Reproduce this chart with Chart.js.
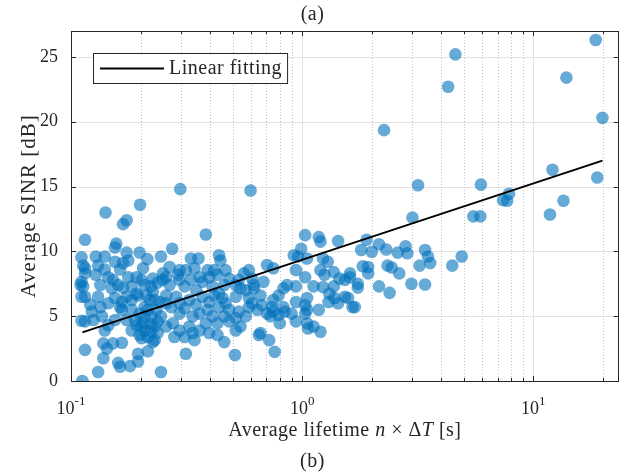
<!DOCTYPE html>
<html>
<head>
<meta charset="utf-8">
<script src="https://cdn.jsdelivr.net/npm/chart.js@4.4.0/dist/chart.umd.min.js"></script>
<style>
  html, body { margin: 0; padding: 0; background: #ffffff; }
  #wrap { width: 625px; height: 476px; }
</style>
</head>
<body>
<div id="wrap"><canvas id="c" width="625" height="476"></canvas></div>
<script>
// Measured links: average lifetime (s) and average SINR (dB)
const lifetime = [
  0.199,0.141,0.174,0.168,0.115,0.157,0.155,0.111,0.128,0.174,0.198,0.214,0.245,0.113,0.115,0.131,0.14,0.168,0.177,0.205,
  0.128,0.163,0.192,0.226,0.237,0.111,0.113,0.110,0.134,0.152,0.177,0.15,0.168,0.208,0.222,0.111,0.115,0.131,0.155,0.174,
  0.195,0.226,0.121,0.134,0.145,0.163,0.183,0.208,0.234,0.111,0.115,0.125,0.14,0.155,0.174,0.192,0.208,0.215,0.23,0.138,
  0.143,0.152,0.166,0.202,0.226,0.115,0.195,0.215,0.138,0.16,0.163,0.18,0.195,0.131,0.112,0.245,0.202,0.222,0.245,0.208,
  0.183,0.219,0.242,0.189,0.202,0.237,0.222,0.249,0.145,0.16,0.183,0.192,0.212,0.23,0.166,0.198,0.215,0.237,0.205,0.183,
  0.198,0.222,0.23,0.136,0.145,0.123,0.115,0.14,0.166,0.155,
  0.297,0.598,0.383,0.274,0.33,0.356,0.437,0.443,0.342,0.416,0.588,0.56,0.25,0.258,0.29,0.295,0.33,0.37,0.396,0.43,
  0.483,0.532,0.607,0.267,0.31,0.348,0.409,0.46,0.541,0.619,0.258,0.285,0.325,0.37,0.416,0.452,0.516,0.588,0.271,0.31,
  0.348,0.39,0.437,0.483,0.532,0.588,0.276,0.325,0.383,0.43,0.483,0.516,0.541,0.28,0.31,0.336,0.342,0.43,0.46,0.314,
  0.512,0.65,0.295,0.36,0.396,0.466,0.57,0.36,0.295,0.267,0.314,0.39,0.466,0.516,0.57,0.258,0.295,0.336,0.409,0.46,
  0.516,0.258,0.36,0.396,0.295,0.437,0.607,
  1.03,1.18,1.2,1.43,0.99,0.92,0.96,1.05,1.23,1.29,0.705,0.75,1.2,1.37,0.68,1.03,1.25,1.45,1.53,1.61,
  0.86,0.83,0.94,1.12,0.66,0.79,1.31,1.38,1.53,1.05,0.94,0.67,0.74,0.75,0.83,0.84,1.03,1.05,1.3,1.43,
  1.65,0.705,0.73,0.79,0.8,1.03,0.94,1.05,1.06,1.12,1.2,0.66,0.72,0.76,0.616,0.64,0.9,1.18,0.94,1.37,
  0.75,1.23,
  2.26,3.17,3.0,5.5,1.9,2.15,1.8,2.0,2.31,2.8,2.85,2.59,3.4,3.5,3.58,4.9,4.46,3.22,1.83,1.93,
  2.34,2.44,1.93,2.63,1.61,1.74,1.74,2.15,2.39,2.97,3.4,1.69,1.58,
  18.6,4.6,13.9,4.28,19.9,12.1,18.9,5.93,7.4,7.85,7.7,13.5,11.8,5.9
];
const sinr = [
  13.6,13.0,12.4,12.1,10.9,10.6,10.3,9.55,9.6,9.9,9.9,9.4,9.6,8.9,8.7,8.9,8.6,9.1,9.3,8.7,
  8.2,8.6,8.0,7.9,7.6,7.65,7.3,7.4,7.4,7.8,8.0,7.15,7.2,7.4,7.3,6.5,6.5,6.5,6.4,6.5,
  6.6,6.9,5.9,5.7,6.0,5.7,5.5,5.7,5.5,4.65,4.6,4.7,3.9,4.7,4.7,4.3,3.9,3.4,4.2,2.9,
  2.5,2.9,2.95,3.3,3.0,2.4,2.1,2.3,1.75,1.4,1.1,1.15,1.5,0.7,0.0,0.7,7.8,5.0,5.0,5.0,
  6.25,6.25,6.1,4.7,4.2,3.7,4.4,7.8,8.0,7.4,7.3,6.75,6.6,6.25,5.5,5.2,5.5,4.6,4.45,3.9,
  3.55,3.8,3.15,5.0,4.3,5.35,8.3,9.6,6.1,9.2,
  14.8,14.7,11.3,10.2,9.45,9.45,9.7,9.3,8.7,8.55,8.55,8.3,8.3,8.0,8.2,7.8,7.8,7.65,8.0,8.2,
  7.9,7.8,7.9,7.4,7.3,7.0,7.3,7.4,7.15,7.15,6.6,6.5,6.25,6.5,6.6,6.4,6.5,6.4,5.7,5.6,
  5.9,5.5,5.7,5.5,5.35,5.7,4.45,4.2,4.45,4.45,4.6,3.9,4.2,3.4,3.4,3.7,3.15,3.55,3.0,2.1,
  2.0,3.55,6.0,5.2,6.1,6.0,5.0,8.0,8.55,8.8,8.55,8.55,8.55,7.4,7.0,6.0,5.2,5.0,5.0,5.0,
  4.85,4.2,3.9,3.7,3.9,6.75,6.0,
  11.25,11.1,10.75,10.8,10.2,9.7,9.6,9.45,9.45,9.2,8.95,8.7,8.55,8.4,7.65,8.0,8.2,7.9,7.8,8.0,
  7.4,7.15,7.3,7.3,6.6,6.6,6.75,6.4,6.5,6.4,6.1,5.85,5.7,5.35,5.7,5.35,5.85,5.5,6.1,6.0,
  5.7,5.2,5.0,5.1,4.45,5.2,4.6,4.45,4.05,4.2,3.8,3.7,3.15,2.25,7.4,5.5,5.2,5.5,8.55,7.3,
  6.25,7.25,
  19.35,15.1,12.6,12.7,10.9,10.55,10.1,9.97,10.15,10.4,9.85,9.9,10.1,9.6,9.1,9.6,8.9,8.9,8.85,8.8,
  8.9,8.75,8.3,8.3,8.3,7.5,7.2,7.3,6.8,7.5,7.45,5.7,6.4,
  26.3,25.2,23.4,22.7,20.3,16.3,15.7,15.15,13.95,14.45,13.9,13.9,12.85,12.7,11.25
];

// Least-squares fit in log10(lifetime), evaluated at the data extremes
const fitLifetime = [0.112, 19.9];
const fitSinr = [3.75, 17.0];

const yTickValues = [0, 5, 10, 15, 20, 25];
const xDecades = [0.1, 1, 10];
const xRange = [0.1, 23.4];
const yRange = [0, 27];

const fitLabel = 'Linear fitting';
const yTitle = 'Average SINR [dB]';
const xTitleParts = [['Average lifetime ', false], ['n', true], [' \u00d7 \u0394', false], ['T', true], [' [s]', false]];
const panelTop = '(a)';
const panelBottom = '(b)';

const FONT = '"Liberation Serif", "DejaVu Serif", serif';
const TEXT = '#262626';
const AXIS = '#262626';

const points = lifetime.map((x, i) => ({ x: x, y: sinr[i] }));
const fitPoints = fitLifetime.map((x, i) => ({ x: x, y: fitSinr[i] }));

function setSpacing(ctx, px) {
  if ('letterSpacing' in ctx) ctx.letterSpacing = px + 'px';
}

// Grid, axis box, ticks, tick labels, titles and legend drawn on the canvas
const decorations = {
  id: 'decorations',
  beforeDatasetsDraw(chart) {
    const ctx = chart.ctx;
    const area = chart.chartArea;
    const xs = chart.scales.x, ys = chart.scales.y;
    ctx.save();
    ctx.lineWidth = 1;
    // horizontal grid
    ctx.strokeStyle = '#e2e2e2';
    yTickValues.forEach(v => {
      const p = Math.round(ys.getPixelForValue(v)) + 0.5;
      ctx.beginPath(); ctx.moveTo(area.left, p); ctx.lineTo(area.right, p); ctx.stroke();
    });
    // minor vertical grid (dotted)
    ctx.strokeStyle = '#c4c4c4';
    ctx.setLineDash([1, 2]);
    xDecades.forEach(d => {
      for (let k = 2; k <= 9; k++) {
        const v = k * d;
        if (v >= xRange[1]) continue;
        const p = Math.round(xs.getPixelForValue(v)) + 0.5;
        ctx.beginPath(); ctx.moveTo(p, area.top); ctx.lineTo(p, area.bottom); ctx.stroke();
      }
    });
    // major vertical grid
    ctx.setLineDash([]);
    ctx.strokeStyle = '#e2e2e2';
    xDecades.forEach(d => {
      if (d <= xRange[0]) return;
      const p = Math.round(xs.getPixelForValue(d)) + 0.5;
      ctx.beginPath(); ctx.moveTo(p, area.top); ctx.lineTo(p, area.bottom); ctx.stroke();
    });
    ctx.restore();
  },
  afterDatasetsDraw(chart) {
    const ctx = chart.ctx;
    const area = chart.chartArea;
    const xs = chart.scales.x, ys = chart.scales.y;
    const W = chart.width;
    ctx.save();
    // axis box
    ctx.strokeStyle = AXIS;
    ctx.lineWidth = 1;
    ctx.strokeRect(Math.round(area.left) + 0.5, Math.round(area.top) + 0.5,
                   Math.round(area.right - area.left) - 1, Math.round(area.bottom - area.top));
    // y ticks, inward on both sides
    yTickValues.forEach(v => {
      const p = Math.round(ys.getPixelForValue(v)) + 0.5;
      ctx.beginPath();
      ctx.moveTo(area.left, p); ctx.lineTo(area.left + 5, p);
      ctx.moveTo(area.right, p); ctx.lineTo(area.right - 5, p);
      ctx.stroke();
    });
    // x ticks, inward on bottom and top
    xDecades.forEach(d => {
      for (let k = 1; k <= 9; k++) {
        const v = k * d;
        if (v >= xRange[1] || v <= xRange[0]) continue;
        const len = k === 1 ? 5 : 3;
        const p = Math.round(xs.getPixelForValue(v)) + 0.5;
        ctx.beginPath();
        ctx.moveTo(p, area.bottom); ctx.lineTo(p, area.bottom - len);
        ctx.moveTo(p, area.top); ctx.lineTo(p, area.top + len);
        ctx.stroke();
      }
    });
    // x tick labels as powers of ten
    ctx.fillStyle = TEXT;
    ctx.textBaseline = 'alphabetic';
    xDecades.forEach(d => {
      const p = xs.getPixelForValue(d);
      const e = String(Math.round(Math.log10(d)));
      ctx.font = '18px ' + FONT;
      const wb = ctx.measureText('10').width;
      ctx.font = '13px ' + FONT;
      const we = ctx.measureText(e).width;
      const x0 = p - (wb + we) / 2;
      ctx.font = '18px ' + FONT;
      ctx.textAlign = 'left';
      ctx.fillText('10', x0, area.bottom + 33);
      ctx.font = '13px ' + FONT;
      ctx.fillText(e, x0 + wb, area.bottom + 24);
    });
    // x axis title with italic symbols
    setSpacing(ctx, 0.5);
    let total = 0;
    xTitleParts.forEach(([t, it]) => {
      ctx.font = (it ? 'italic ' : '') + '20px ' + FONT;
      total += ctx.measureText(t).width;
    });
    let cx = (area.left + area.right) / 2 - total / 2;
    ctx.textBaseline = 'middle';
    xTitleParts.forEach(([t, it]) => {
      ctx.font = (it ? 'italic ' : '') + '20px ' + FONT;
      ctx.fillText(t, cx, area.bottom + 50);
      cx += ctx.measureText(t).width;
    });
    // y axis title
    ctx.save();
    setSpacing(ctx, 1);
    ctx.translate(29, (area.top + area.bottom) / 2);
    ctx.rotate(-Math.PI / 2);
    ctx.textAlign = 'center';
    ctx.font = '21px ' + FONT;
    ctx.fillText(yTitle, 0, 0);
    ctx.restore();
    // panel captions
    setSpacing(ctx, 0.5);
    ctx.textAlign = 'center';
    ctx.font = '20px ' + FONT;
    ctx.fillText(panelTop, W / 2, 15);
    ctx.fillText(panelBottom, W / 2, 462);
    // legend
    const lx = area.left + 22, ly = area.top + 22;
    ctx.font = '20px ' + FONT;
    const tw = ctx.measureText(fitLabel).width;
    const bw = 76 + tw + 5, bh = 30;
    ctx.fillStyle = '#ffffff';
    ctx.fillRect(lx, ly, bw, bh);
    ctx.strokeStyle = AXIS;
    ctx.lineWidth = 1;
    ctx.strokeRect(lx + 0.5, ly + 0.5, bw, bh);
    ctx.strokeStyle = '#000000';
    ctx.lineWidth = 2;
    ctx.beginPath();
    ctx.moveTo(lx + 7, ly + bh / 2 + 0.5); ctx.lineTo(lx + 71, ly + bh / 2 + 0.5);
    ctx.stroke();
    ctx.fillStyle = TEXT;
    ctx.textAlign = 'left';
    ctx.textBaseline = 'middle';
    ctx.fillText(fitLabel, lx + 76, ly + bh / 2 + 1);
    ctx.restore();
  }
};

new Chart(document.getElementById('c'), {
  type: 'scatter',
  data: {
    datasets: [
      {
        type: 'line',
        label: fitLabel,
        data: fitPoints,
        borderColor: '#000000',
        borderWidth: 2,
        pointRadius: 0,
        fill: false,
        order: 0
      },
      {
        label: 'Links',
        data: points,
        backgroundColor: 'rgba(0,114,189,0.6)',
        borderWidth: 0,
        pointRadius: 6.3,
        order: 1
      }
    ]
  },
  options: {
    responsive: false,
    animation: false,
    layout: { padding: { top: 31, right: 2, left: 0, bottom: 0 } },
    plugins: { legend: { display: false }, tooltip: { enabled: false } },
    scales: {
      x: {
        type: 'logarithmic',
        min: xRange[0], max: xRange[1],
        grid: { display: false, drawTicks: false },
        border: { display: false },
        ticks: { display: false },
        afterFit(s) { s.height = 95; }
      },
      y: {
        min: yRange[0], max: yRange[1],
        grid: { display: false, drawTicks: false },
        border: { display: false },
        ticks: { font: { family: FONT, size: 18 }, color: TEXT, padding: 13 },
        afterBuildTicks(s) { s.ticks = yTickValues.map(v => ({ value: v })); },
        afterFit(s) { s.width = 71; }
      }
    }
  },
  plugins: [decorations]
});
</script>
</body>
</html>
